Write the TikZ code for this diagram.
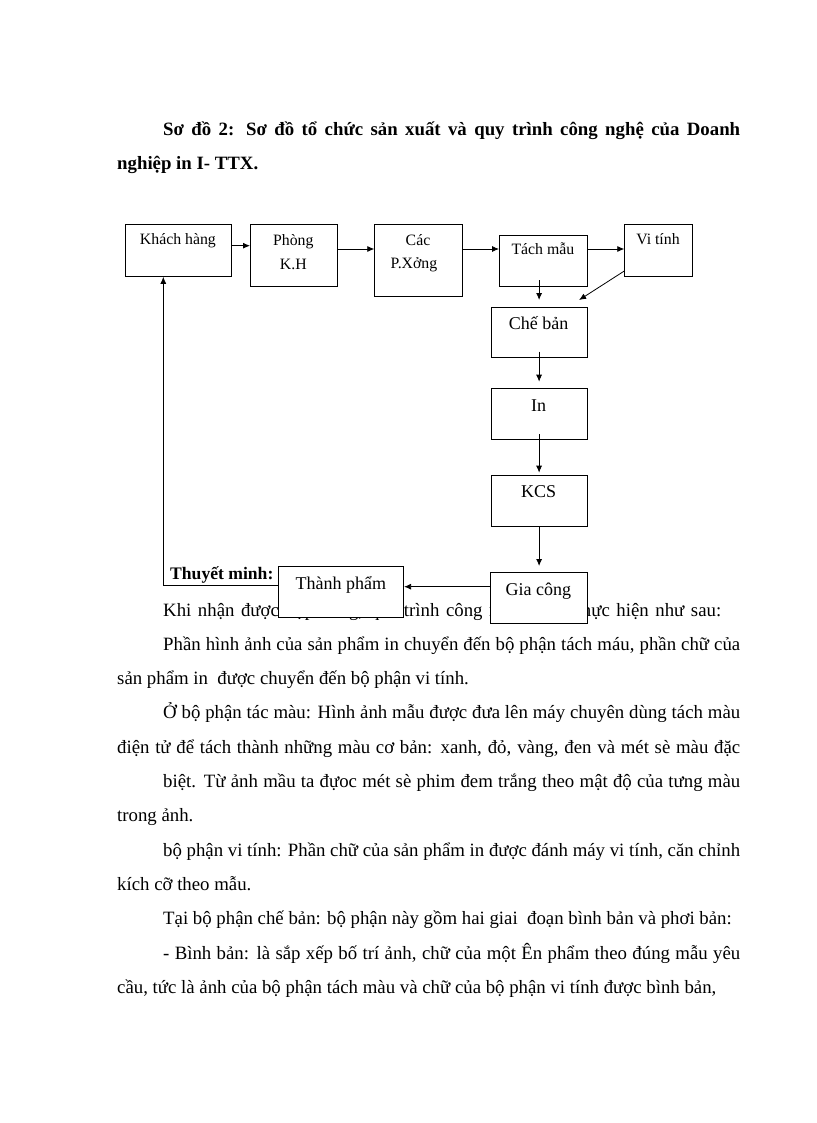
\documentclass[tikz,border=0pt]{standalone}
\usepackage{fontspec}
\setmainfont{Liberation Serif}
\usetikzlibrary{arrows.meta,calc}
\begin{document}
\begin{tikzpicture}[x=1pt,y=-1pt,
  box/.style={draw=black, fill=white, line width=0.8pt, inner sep=0pt, anchor=north west},
  arr/.style={draw=black, line width=0.8pt, -{Latex[length=7pt,width=6pt]}},
  body/.style={anchor=base west, inner sep=0pt, font=\fontsize{18.8}{21}\selectfont},
  ttl/.style={anchor=base west, inner sep=0pt, font=\fontsize{18.8}{21}\selectfont\bfseries},
  small/.style={anchor=base, inner sep=0pt, font=\fontsize{15.8}{18}\selectfont},
  big/.style={anchor=base, inner sep=0pt, font=\fontsize{18}{20}\selectfont}]
\useasboundingbox[fill=white] (0,0) rectangle (816,1123);
% title
\node[ttl] (t1) at (163,136) {\makebox[577pt][s]{Sơ đồ 2: Sơ đồ tổ chức sản xuất và quy trình công nghệ của Doanh}};
\node[ttl] (t2) at (117,170) {nghiệp in I- TTX.};
% body text
\node[ttl, font=\fontsize{17.6}{20}\selectfont\bfseries] (th) at (170,579) {Thuyết minh:};
\node[body] (l1) at (163,616) {\makebox[558pt][s]{Khi nhận được hợp đồng, quá trình công nghệ được thực hiện như sau:}};
\node[body] (l2) at (163,650.3) {\makebox[577pt][s]{Phần hình ảnh của sản phẩm in chuyển đến bộ phận tách máu, phần chữ của}};
\node[body] (l3) at (117,684.6) {sản phẩm in\ \ được chuyển đến bộ phận vi tính.};
\node[body] (l4) at (163,718.9) {\makebox[577pt][s]{Ở bộ phận tác màu: Hình ảnh mẫu được đưa lên máy chuyên dùng tách màu}};
\node[body] (l5) at (117,753.2) {\makebox[623pt][s]{điện tử để tách thành những màu cơ bản: xanh, đỏ, vàng, đen và mét sè màu đặc}};
\node[body] (l6) at (163,787.5) {\makebox[577pt][s]{biệt. Từ ảnh mầu ta đựoc mét sè phim đem trắng theo mật độ của tưng màu}};
\node[body] (l7) at (117,821.8) {trong ảnh.};
\node[body] (l8) at (163,856.1) {\makebox[577pt][s]{bộ phận vi tính: Phần chữ của sản phẩm in được đánh máy vi tính, căn chỉnh}};
\node[body] (l9) at (117,890.4) {kích cỡ theo mẫu.};
\node[body] (l10) at (163,924.7) {Tại bộ phận chế bản: bộ phận này gồm hai giai\ \ đoạn bình bản và phơi bản:};
\node[body] (l11) at (163,959) {\makebox[577pt][s]{- Bình bản: là sắp xếp bố trí ảnh, chữ của một Ên phẩm theo đúng mẫu yêu}};
\node[body] (l12) at (117,993.3) {cầu, tức là ảnh của bộ phận tách màu và chữ của bộ phận vi tính được bình bản,};
% boxes
\node[box, minimum width=105.7pt, minimum height=51.7pt] (kh) at (125,224.3) {};
\node[box, minimum width=86.7pt, minimum height=61.7pt] (ph) at (250,224.3) {};
\node[box, minimum width=87.4pt, minimum height=71.7pt] (cac) at (374.3,224.3) {};
\node[box, minimum width=87.7pt, minimum height=51pt] (tach) at (499,235) {};
\node[box, minimum width=67.4pt, minimum height=51.7pt] (vi) at (624.3,224.3) {};
\node[box, minimum width=96pt, minimum height=50.6pt] (che) at (490.7,306.7) {};
\node[box, minimum width=96pt, minimum height=51.3pt] (inb) at (490.7,388) {};
\node[box, minimum width=96pt, minimum height=50.7pt] (kcs) at (490.7,475) {};
\node[box, minimum width=96.7pt, minimum height=51pt] (gia) at (490,572.3) {};
\node[box, minimum width=125pt, minimum height=51.3pt] (tp) at (278.3,566) {};
% box labels
\node[small] (khT) at (177.9,244.3) {Khách hàng};
\node[small] (phT1) at (293.3,245) {Phòng};
\node[small] (phT2) at (293.3,269) {K.H};
\node[small] (cacT1) at (418,245) {Các};
\node[small] (cacT2) at (414,268.3) {P.Xởng};
\node[small] (tachT) at (542.9,254.3) {Tách mẫu};
\node[small] (viT) at (658,244.3) {Vi tính};
\node[big] (cheT) at (538.7,329.3) {Chế bản};
\node[big] (inT) at (538.7,411.7) {In};
\node[big] (kcsT) at (538.7,497.3) {KCS};
\node[big] (giaT) at (538.3,595) {Gia công};
\node[big] (tpT) at (340.8,589.3) {Thành phẩm};
% connectors
\draw[arr] (kh.east |- 0,245.7) -- (ph.west |- 0,245.7);
\draw[arr] (ph.east |- 0,249) -- (cac.west |- 0,249);
\draw[arr] (cac.east |- 0,249) -- (tach.west |- 0,249);
\draw[arr] (tach.east |- 0,249) -- (vi.west |- 0,249);
\draw[arr] (che.north |- 0,280) -- ($(che.north)+(0,-6.7)$);
\draw[arr] (vi.west |- 0,271) -- ($(che.north east)+(-8.4,-6.7)$);
\draw[arr] (che.north |- 0,351.7) -- ($(inb.north)+(0,-6.3)$);
\draw[arr] (inb.north |- 0,434) -- ($(kcs.north)+(0,-2.3)$);
\draw[arr] (kcs.south) -- (kcs.south |- 0,566);
\draw[arr] (gia.west |- 0,586.7) -- (tp.east |- 0,586.7);
\draw[arr] (tp.west |- 0,585.7) -| (163.3,0 |- kh.south);
\end{tikzpicture}
\end{document}
